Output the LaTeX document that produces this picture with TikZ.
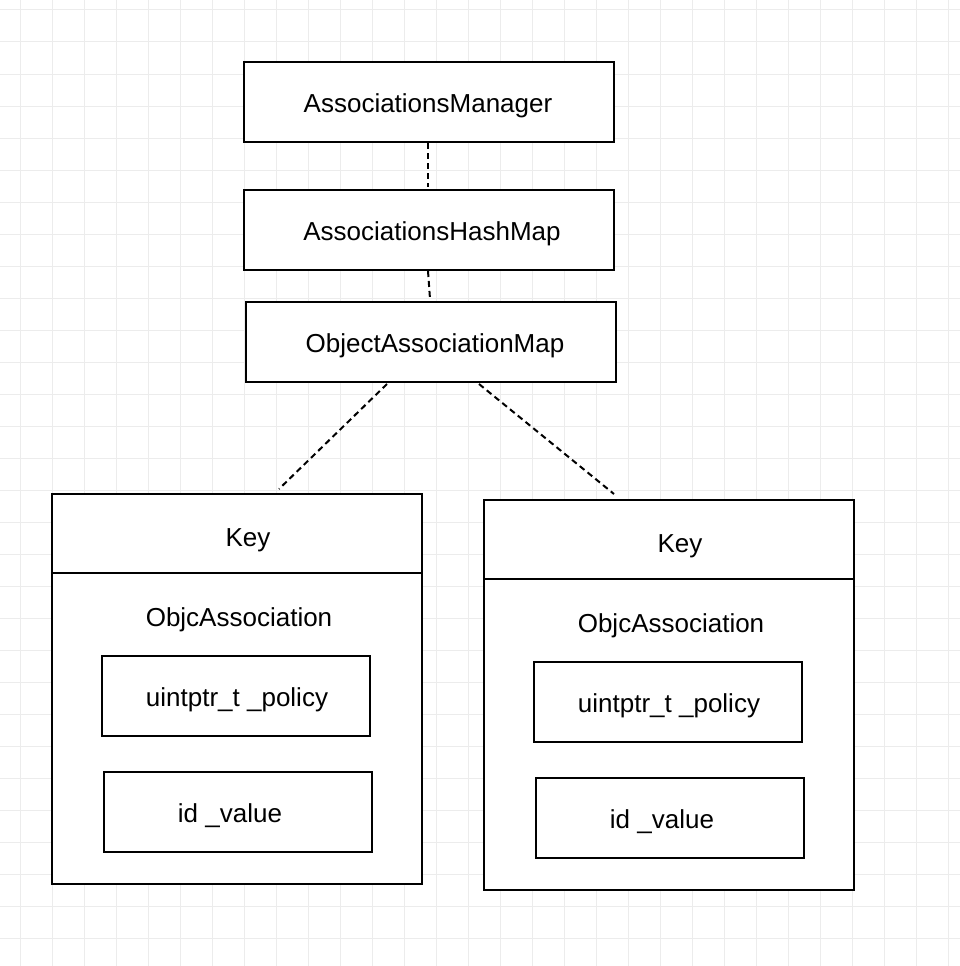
\documentclass[tikz,border=0pt]{standalone}
\usepackage{fontspec}
\setmainfont{Liberation Sans}
\usetikzlibrary{calc}
\definecolor{gridc}{RGB}{236,236,236}
\tikzset{
  box/.style={draw=black, line width=2pt, fill=white, inner sep=0pt, minimum width=370pt, minimum height=80pt, font=\fontsize{26}{30}\selectfont, text height=23pt, text depth=2.5pt},
  inbox/.style={box, minimum width=268pt},
  cont/.style={draw=black, line width=2pt, fill=white, inner sep=0pt, minimum width=370pt, minimum height=390pt},
  txt/.style={inner sep=0pt, font=\fontsize{26}{30}\selectfont, text height=23pt, text depth=2.5pt},
  conn/.style={draw=black, line width=2pt, dash pattern=on 6pt off 4pt},
}
\begin{document}
\begin{tikzpicture}[x=1pt,y=-1pt]
\useasboundingbox (0,0) rectangle (960,966);
\fill[white] (0,0) rectangle (960,966);
\foreach \i in {0,...,29} { \draw[gridc, line width=1pt] (20+32*\i,0) -- (20+32*\i,966); }
\foreach \j in {0,...,29} { \draw[gridc, line width=1pt] (0,10+32*\j) -- (960,10+32*\j); }

\node[box] (mgr) at (429,102) {\hspace*{-2pt}AssociationsManager};
\node[box] (hash) at (429,230) {\hspace*{6pt}AssociationsHashMap};
\node[box] (oam) at (431,342) {\hspace*{8pt}ObjectAssociationMap};

% left container
\node[cont] (lc) at (237,689) {};
\draw[line width=2pt] ([yshift=-80pt]lc.north west) -- ([yshift=-80pt]lc.north east);
\node[txt] (lkey) at (248,536) {Key};
\node[txt] (lobj) at (239,616) {ObjcAssociation};
\node[inbox] (lpol) at (236,696) {\hspace*{2pt}uintptr\_t \_policy};
\node[inbox] (lval) at (238,812) {id \_value\hspace*{16pt}};

% right container
\node[cont] (rc) at (669,695) {};
\draw[line width=2pt] ([yshift=-80pt]rc.north west) -- ([yshift=-80pt]rc.north east);
\node[txt] (rkey) at (680,542) {Key};
\node[txt] (robj) at (671,622) {ObjcAssociation};
\node[inbox] (rpol) at (668,702) {\hspace*{2pt}uintptr\_t \_policy};
\node[inbox] (rval) at (670,818) {id \_value\hspace*{16pt}};

% connectors
\draw[conn] ([xshift=-1pt]mgr.south) -- ([xshift=-1pt,yshift=2pt]hash.north);
\draw[conn] ([xshift=-1pt]hash.south) -- ([xshift=-1pt,yshift=2pt]oam.north);
\draw[conn] ([xshift=142pt,yshift=-1pt]oam.south west) -- ([xshift=228pt,yshift=4pt]lc.north west);
\draw[conn] ([xshift=234pt,yshift=-1pt]oam.south west) -- ([xshift=131pt,yshift=5pt]rc.north west);
\end{tikzpicture}
\end{document}
